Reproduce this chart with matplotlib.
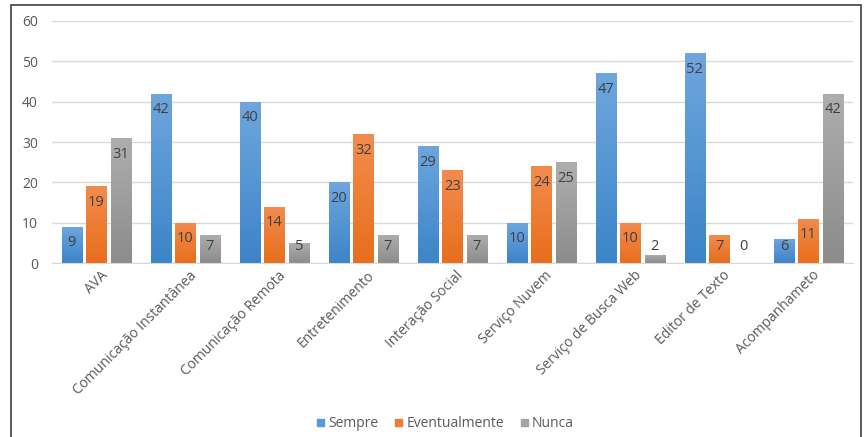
import matplotlib.pyplot as plt
import matplotlib.patches as mpatches
from matplotlib.colors import LinearSegmentedColormap
import numpy as np

plt.rcParams['font.family'] = ['Open Sans', 'DejaVu Sans']

categorias = ['AVA', 'Comunicação Instantânea', 'Comunicação Remota', 'Entretenimento',
              'Interação Social', 'Serviço Nuvem', 'Serviço de Busca Web',
              'Editor de Texto', 'Acompanhameto']
sempre = [9, 42, 40, 20, 29, 10, 47, 52, 6]
eventualmente = [19, 10, 14, 32, 23, 24, 10, 7, 11]
nunca = [31, 7, 5, 7, 7, 25, 2, 0, 42]

# (nome, valores, cor da legenda, cor topo, cor base)
series = [('Sempre', sempre, '#5B9BD5', '#6EA6DD', '#3C85C8'),
          ('Eventualmente', eventualmente, '#ED7D31', '#F28C4E', '#E86E1C'),
          ('Nunca', nunca, '#A5A5A5', '#AEAEAE', '#8C8C8C')]

fig = plt.figure(figsize=(8.65, 4.37), dpi=100)
ax = fig.add_axes([0.060, 0.398, 0.926, 0.554])

x = np.arange(len(categorias))
w = 0.225
step = 0.275
grad = np.linspace(1, 0, 64).reshape(-1, 1)
for i, (nome, vals, cor, topo, base) in enumerate(series):
    pos = x + (i - 1) * step
    bars = ax.bar(pos, vals, w, color=cor, label=nome, zorder=2)
    cmap = LinearSegmentedColormap.from_list(nome, [base, topo])
    for b, p, v in zip(bars, pos, vals):
        if v > 0:
            im = ax.imshow(grad, cmap=cmap, aspect='auto', zorder=2.5,
                           extent=[p - w / 2, p + w / 2, 0, v], origin='upper')
            im.set_clip_path(b)
        ax.text(p, max(v - 4, 4), str(v), ha='center', va='center',
                fontsize=10.5, color='#404040', zorder=3)

ax.set_xlim(-0.5, len(categorias) - 0.5)
ax.set_ylim(0, 60)
ax.set_yticks(range(0, 61, 10))
ax.yaxis.grid(True, color='#D9D9D9', linewidth=1, zorder=0)
ax.set_axisbelow(True)
for s in ['top', 'right', 'left']:
    ax.spines[s].set_visible(False)
ax.spines['bottom'].set_color('#D9D9D9')
ax.tick_params(axis='both', length=0, labelsize=10, colors='#595959')
ax.tick_params(axis='y', pad=10)
ax.set_xticks(x + 0.04)
ax.set_xticklabels(categorias, rotation=45, ha='right', rotation_mode='anchor')

handles = [mpatches.Patch(color=c, label=n) for n, _, c, _, _ in series]
fig.legend(handles=handles, loc='center', bbox_to_anchor=(0.515, 0.03), ncol=3,
           frameon=False, fontsize=10, handlelength=0.5, handleheight=0.5,
           handletextpad=0.3, columnspacing=1.2, labelcolor='#595959')

# moldura da figura
fig.patches.append(mpatches.Rectangle((11 / 865, -0.05), 850 / 865, 1 - 5 / 437 + 0.05,
                                      transform=fig.transFigure, fill=False,
                                      edgecolor='#404040', linewidth=1.2))

fig.savefig('out.png', dpi=100)
